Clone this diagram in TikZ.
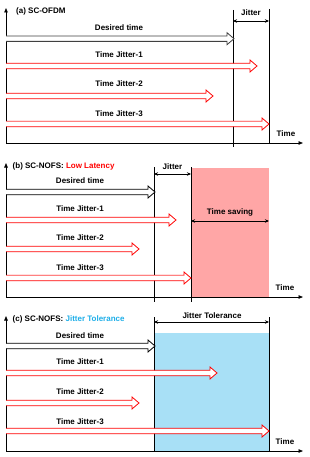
\documentclass[tikz,border=0pt]{standalone}
\usepackage{fontspec}
\setmainfont{Liberation Sans}
\usetikzlibrary{arrows.meta}
\definecolor{arrred}{HTML}{FF0000}
\definecolor{arrpink}{HTML}{FF8080}
\definecolor{savepink}{HTML}{FFA6A6}
\definecolor{tolblue}{HTML}{A8E0F6}
\definecolor{tolcyan}{HTML}{1EAEE8}
\newcommand{\hollowarrow}[5]{% style, x0, y, xtip, name
\draw[#1, line width=0.8pt, fill=white] ({#2},{#3-2.7}) -- ({#4-7},{#3-2.7}) -- ({#4-7},{#3-6}) -- ({#4},{#3}) -- ({#4-7},{#3+6}) -- ({#4-7},{#3+2.7}) -- ({#2},{#3+2.7});
\coordinate (#5) at ({#4},{#3});}
\begin{document}
\begin{tikzpicture}[x=1pt,y=-1pt,
  lbl/.style={font=\bfseries\fontsize{8}{9}\selectfont, inner sep=0pt},
  axis/.style={line width=0.8pt, -{Triangle[length=4.5pt,width=3.5pt]}},
  vline/.style={line width=0.9pt},
  dim/.style={line width=0.7pt, {Stealth[length=4pt,width=3.5pt]}-{Stealth[length=4pt,width=3.5pt]}}]
\useasboundingbox (0,0) rectangle (309,457);

% ================= (a) =================
\coordinate (a0) at (6,143);
\coordinate (ay) at (6,8);
\coordinate (ax) at (303,143);
\draw[axis] (a0) -- (ay);
\draw[axis] (a0) -- (ax);
\node[lbl, anchor=west] (ta) at (16,11) {(a) SC-OFDM};
\coordinate (av1t) at (233,10); \coordinate (av1b) at (233,147);
\coordinate (av2t) at (269,9);  \coordinate (av2b) at (269,143);
\draw[vline] (av1t) -- (av1b);
\draw[vline] (av2t) -- (av2b);
\node[lbl] (aj) at (251,13) {Jitter};
\draw[dim] (233,21) -- (269,21);
\hollowarrow{black!75}{6}{38.7}{234}{ad}
\node[lbl] (adl) at (119,28) {Desired time};
\hollowarrow{arrred}{6}{66}{257}{a1}
\node[lbl] (a1l) at (119,54.5) {Time Jitter-1};
\hollowarrow{arrred}{6}{96}{213}{a2}
\node[lbl] (a2l) at (119,84) {Time Jitter-2};
\hollowarrow{arrred}{6}{124}{269}{a3}
\draw[arrpink, line width=0.8pt] (6,121.3) -- (262,121.3);
\node[lbl] (a3l) at (119,113.5) {Time Jitter-3};
\node[lbl] (atime) at (286,133.5) {Time};

% ================= (b) =================
\fill[savepink] (191,168) rectangle (269,297);
\coordinate (b0) at (6,297);
\coordinate (by) at (6,163);
\coordinate (bx) at (303,297);
\draw[axis] (b0) -- (by);
\draw[axis] (b0) -- (bx);
\node[lbl, anchor=west] (tb) at (12.5,166) {(b) SC-NOFS: \textcolor{arrred}{Low Latency}};
\coordinate (bv1t) at (154,167); \coordinate (bv1b) at (154,302);
\coordinate (bv2t) at (191,167); \coordinate (bv2b) at (191,302);
\draw[vline] (bv1t) -- (bv1b);
\draw[vline] (bv2t) -- (bv2b);
\node[lbl] (bj) at (172.5,166.5) {Jitter};
\draw[dim] (154,174) -- (191,174);
\node[lbl] (bts) at (230,212) {Time saving};
\draw[dim] (191,221) -- (269,221);
\hollowarrow{black}{6}{192}{155}{bd}
\node[lbl] (bdl) at (80,181) {Desired time};
\hollowarrow{arrred}{6}{220}{176}{b1}
\node[lbl] (b1l) at (80,208.5) {Time Jitter-1};
\hollowarrow{arrred}{6}{249}{139}{b2}
\node[lbl] (b2l) at (80,238) {Time Jitter-2};
\hollowarrow{arrred}{6}{278}{191}{b3}
\draw[arrpink, line width=0.8pt] (6,275.3) -- (184,275.3);
\node[lbl] (b3l) at (80,268) {Time Jitter-3};
\node[lbl] (btime) at (285,288) {Time};

% ================= (c) =================
\fill[tolblue] (154,333) rectangle (269,451);
\coordinate (c0) at (6,451);
\coordinate (cy) at (6,316);
\coordinate (cx) at (303,451);
\draw[axis] (c0) -- (cy);
\draw[axis] (c0) -- (cx);
\node[lbl, anchor=west] (tc) at (12.5,319.5) {(c) SC-NOFS: \textcolor{tolcyan}{Jitter Tolerance}};
\coordinate (cv1t) at (154,317); \coordinate (cv1b) at (154,451);
\coordinate (cv2t) at (269,317); \coordinate (cv2b) at (269,451);
\draw[vline] (cv1t) -- (cv1b);
\draw[vline] (cv2t) -- (cv2b);
\node[lbl] (cj) at (212,315.5) {Jitter Tolerance};
\draw[dim] (154,322) -- (269,322);
\hollowarrow{black}{6}{346}{155}{cd}
\node[lbl] (cdl) at (80,336) {Desired time};
\hollowarrow{arrred}{6}{373}{217}{c1}
\node[lbl] (c1l) at (80,362) {Time Jitter-1};
\hollowarrow{arrred}{6}{403}{139}{c2}
\node[lbl] (c2l) at (80,392) {Time Jitter-2};
\hollowarrow{arrred}{6}{431}{269}{c3}
\node[lbl] (c3l) at (80,421.5) {Time Jitter-3};
\node[lbl] (ctime) at (285,442) {Time};
\end{tikzpicture}
\end{document}
